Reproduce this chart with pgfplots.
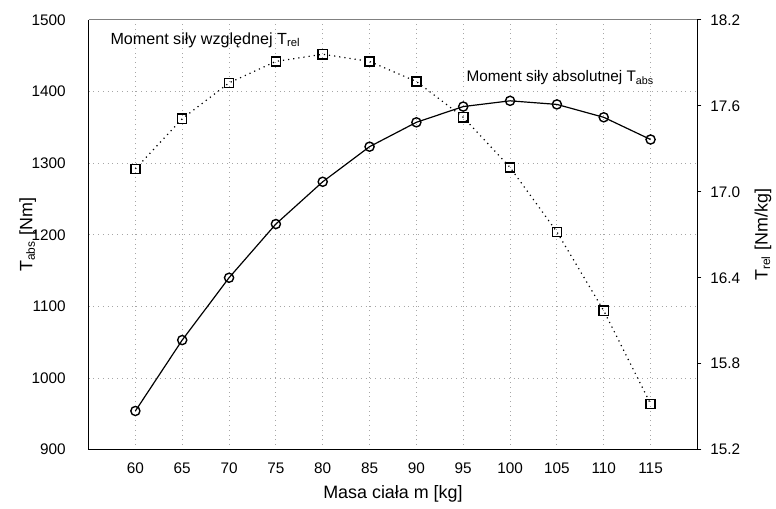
\documentclass[border=0pt]{standalone}
\usepackage{fontspec}
\setmainfont{Liberation Sans}
\usepackage{pgfplots}
\pgfplotsset{compat=1.18}

% masa ciala m [kg] vs moment sily
\pgfplotstableread{
m    tabs
60   954
65   1053
70   1140
75   1215
80   1274
85   1323
90   1357
95   1379
100  1387
105  1382
110  1364
115  1333
}\absdata
\pgfplotstableread{
m    trel
60   17.16
65   17.51
70   17.76
75   17.91
80   17.96
85   17.91
90   17.77
95   17.52
100  17.17
105  16.72
110  16.17
115  15.52
}\reldata

\begin{document}
\begin{tikzpicture}[font=\fontsize{7.7}{9}\selectfont]
\pgfplotsset{
  every axis/.append style={
    width=306pt, height=216pt, scale only axis,
    xmin=55, xmax=120,
    /pgf/number format/assume math mode=true,
    /pgf/number format/set thousands separator={},
    tick label style={font=\fontsize{7.7}{9}\selectfont},
  },
}
\begin{axis}[
  ymin=900, ymax=1500,
  axis y line*=left, axis x line*=bottom,
  xtick={60,65,...,115},
  ytick={900,1000,...,1500},
  major tick length=0pt,
  grid=major,
  grid style={dotted, gray!70, line width=0.5pt},
  axis line style={line width=0.8pt},
  yticklabel style={xshift=-8pt},
  xticklabel style={yshift=-3pt},
  xlabel={Masa ciała m [kg]},
  ylabel={T\textsubscript{abs} [Nm]},
  label style={font=\fontsize{9}{11}\selectfont},
  xlabel style={at={(rel axis cs:0.5,0)}, anchor=center, yshift=-22pt},
  ylabel style={at={(rel axis cs:0,0.5)}, anchor=center, yshift=30.5pt},
  clip=false,
]
\draw[line width=0.5pt, gray] (rel axis cs:0,1) -- (rel axis cs:1,1);
\addplot[black, line width=0.6pt, mark=o, mark size=2.3pt,
  mark options={solid, fill=white, line width=0.7pt}] table[x=m, y=tabs] {\absdata};
\node[anchor=west, font=\fontsize{8.1}{9}\selectfont] at (axis cs:56.6,1472) {Moment siły względnej T\textsubscript{rel}};
\node[anchor=west] at (axis cs:94.6,1419) {Moment siły absolutnej T\textsubscript{abs}};
% page margins as in the reference
\path (rel axis cs:0,0) ++(-44.5pt,-27pt) (rel axis cs:1,1) ++(39.5pt,10pt);
\end{axis}
\begin{axis}[
  ymin=15.2, ymax=18.2,
  axis y line*=right, axis x line=none,
  ytick={15.2,15.8,...,18.3},
  /pgf/number format/fixed,
  /pgf/number format/fixed zerofill,
  /pgf/number format/precision=1,
  tick align=outside, major tick length=2pt,
  ytick style={black, line width=0.6pt},
  axis line style={line width=0.8pt},
  yticklabel style={xshift=1pt},
  ylabel={T\textsubscript{rel} [Nm/kg]},
  label style={font=\fontsize{9}{11}\selectfont},
  ylabel style={at={(rel axis cs:1,0.5)}, anchor=center, yshift=-33pt, overlay},
]
\addplot[black, dotted, line width=0.6pt, mark=square, mark size=2.3pt,
  mark options={solid, fill=white, line width=0.7pt}] table[x=m, y=trel] {\reldata};
\end{axis}
\end{tikzpicture}
\end{document}
